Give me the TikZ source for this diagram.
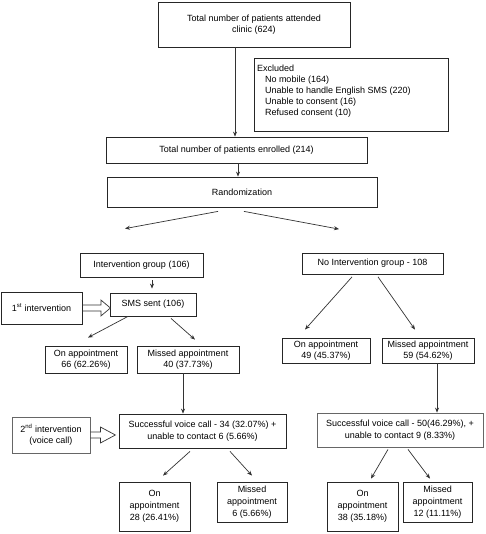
\documentclass[tikz,border=0pt]{standalone}
\usepackage{fontspec}
\setmainfont{Liberation Sans}
\usetikzlibrary{arrows.meta,calc}
\begin{document}
\begin{tikzpicture}[x=1pt,y=-1pt,
  every node/.style={font=\fontsize{9}{11}\selectfont},
  box/.style={draw=black!85, line width=0.8pt, align=center, inner sep=2pt},
  graybox/.style={box, draw=black!60},
  arr/.style={draw=black!80, line width=0.7pt, -{Stealth[length=5,width=4]}},
  hollow/.style={draw=black!80, line width=0.7pt, line join=miter}]
\useasboundingbox (0,0) rectangle (485,534);
\fill[white] (0,0) rectangle (485,534);

\node[box, minimum width=192, minimum height=45, font=\fontsize{9}{10.5}\selectfont] (top) at (254,24.5) {Total number of patients attended\\clinic (624)};
\node[box, minimum width=194, minimum height=73, inner xsep=3pt, inner ysep=0pt] (excl) at (351,94.5)
  {\parbox[c][59pt][t]{188pt}{Excluded\\\hspace*{8pt}No mobile (164)\\\hspace*{8pt}Unable to handle English SMS (220)\\\hspace*{8pt}Unable to consent (16)\\\hspace*{8pt}Refused consent (10)}};
\node[box, minimum width=261, minimum height=26] (enrol) at (236.5,150) {Total number of patients enrolled (214)};
\node[box, minimum width=270, minimum height=30] (rand) at (242,192) {Randomization};

\node[box, minimum width=123, minimum height=24] (intg) at (141.5,265) {Intervention group (106)};
\node[box, minimum width=141, minimum height=21] (noint) at (372.5,263.5) {No Intervention group - 108};

\node[box, minimum width=86, minimum height=23] (sms) at (153,304.5) {SMS sent (106)};
\node[box, minimum width=81, minimum height=32] (int1) at (41.5,308) {1\textsuperscript{st} intervention};

\node[box, minimum width=82, minimum height=27] (onL) at (86,359.5) {On appointment\\66 (62.26\%)};
\node[box, minimum width=102, minimum height=27] (missL) at (188,359.5) {Missed appointment\\40 (37.73\%)};
\node[box, minimum width=88, minimum height=25] (onR) at (326,350.5) {On appointment\\49 (45.37\%)};
\node[box, minimum width=92, minimum height=25] (missR) at (428,350.5) {Missed appointment\\59 (54.62\%)};

\node[box, minimum width=167, minimum height=34, font=\fontsize{9}{12}\selectfont] (voiceL) at (202.5,431) {Successful voice call - 34 (32.07\%) +\\unable to contact 6 (5.66\%)};
\node[graybox, minimum width=166, minimum height=34, font=\fontsize{9}{12}\selectfont] (voiceR) at (400,430) {Successful voice call - 50(46.29\%), +\\unable to contact 9 (8.33\%)};
\node[graybox, minimum width=78, minimum height=36] (int2) at (51,435) {2\textsuperscript{nd} intervention\\(voice call)};

\tikzset{bot/.style={box, font=\fontsize{9}{12}\selectfont}}
\node[bot, minimum width=71, minimum height=49] (onLL) at (154.5,506.5) {On\\appointment\\28 (26.41\%)};
\node[bot, minimum width=70, minimum height=40] (missLL) at (252,502) {Missed\\appointment\\6 (5.66\%)};
\node[bot, minimum width=71, minimum height=49] (onRR) at (362.5,506.5) {On\\appointment\\38 (35.18\%)};
\node[bot, minimum width=69, minimum height=40] (missRR) at (437.5,502) {Missed\\appointment\\12 (11.11\%)};

% connectors
\draw[arr] ($(top.south)+(-19,0)$) coordinate (t1) -- (t1 |- enrol.north);
\draw[arr] ($(enrol.south)+(1.5,0)$) coordinate (e1) -- (e1 |- rand.north);

\coordinate (rL) at ($(rand.south)+(-24,4)$);
\coordinate (rR) at ($(rand.south)+(2,4)$);
\coordinate (eL) at ($(intg.north)+(-16.5,-24)$);
\coordinate (eR) at ($(noint.north)+(-33.5,-23.5)$);
\draw[arr] (rL) -- (eL);
\draw[arr] (rR) -- (eR);

\draw[arr] ($(intg.south)+(10.5,3)$) -- ($(sms.north)+(-1,-4)$);

\draw[arr] ($(sms.south)+(-25,0)$) -- ($(onL.north)+(2,-8)$);
\draw[arr] ($(sms.south)+(18,2)$) -- ($(missL.north)+(7,-6)$);

\draw[arr] ($(noint.south)+(-20.5,2.5)$) -- ($(onR.north)+(-21,-8)$);
\draw[arr] ($(noint.south)+(5.5,2.5)$) -- ($(missR.north)+(-13,-8)$);

\draw[arr] ($(missL.south)+(-5,0)$) coordinate (m1) -- (m1 |- voiceL.north);
\draw[arr] ($(missR.south)+(9,0)$) coordinate (m2) -- (m2 |- voiceR.north);

\draw[arr] ($(voiceL.south)+(-12.5,3)$) -- ($(onLL.north)+(8.5,-6)$);
\draw[arr] ($(voiceL.south)+(27.5,3)$) -- ($(missLL.north)+(0,-6)$);
\draw[arr] ($(voiceR.south)+(-12,2)$) -- ($(onRR.north)+(8.5,-3)$);
\draw[arr] ($(voiceR.south)+(8,2)$) -- ($(missRR.north)+(-7.5,-3)$);

% hollow block arrows
\draw[hollow] (int1.east) ++(0,-3) -- ++(18.5,0) -- ++(0,-5) -- ++(9.5,8) -- ++(-9.5,8) -- ++(0,-5) -- ++(-18.5,0);
\draw[hollow] (int2.east) ++(0,-3) -- ++(10,0) -- ++(0,-5) -- ++(15,8) -- ++(-15,8) -- ++(0,-5) -- ++(-10,0);
\end{tikzpicture}
\end{document}
